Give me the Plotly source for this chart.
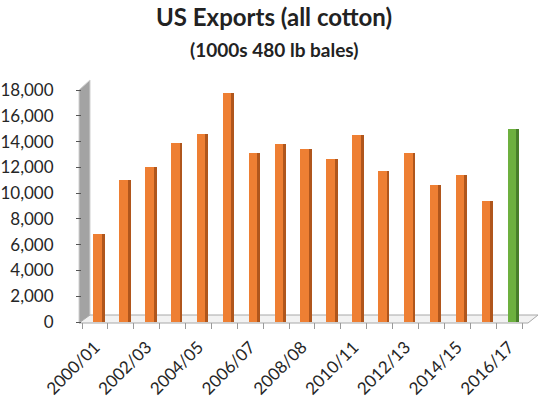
import plotly.graph_objects as go

# US cotton exports by marketing year, thousand 480-lb bales
seasons = [
    "2000/01", "2001/02", "2002/03", "2003/04", "2004/05", "2005/06",
    "2006/07", "2007/08", "2008/08", "2009/10", "2010/11", "2011/12",
    "2012/13", "2013/14", "2014/15", "2015/16", "2016/17",
]
exports = [
    6800, 11050, 12000, 13850, 14600, 17750,
    13150, 13800, 13450, 12650, 14500, 11700,
    13150, 10650, 11400, 9400, 15000,
]

orange_face, orange_side = "#EE7F33", "#B0561C"
green_face, green_side = "#6DB03F", "#487F2A"

x_idx = list(range(len(seasons)))
face_colors = [orange_face] * (len(seasons) - 1) + [green_face]
side_colors = [orange_side] * (len(seasons) - 1) + [green_side]

fig = go.Figure()
# front face of each column
fig.add_trace(go.Bar(
    x=x_idx, y=exports, width=0.33, offset=-0.06,
    marker=dict(color=face_colors, line=dict(width=0)),
    hovertext=seasons, showlegend=False,
))
# shaded side face giving the columns depth
fig.add_trace(go.Bar(
    x=x_idx, y=exports, width=0.11, offset=0.27,
    marker=dict(color=side_colors, line=dict(width=0)),
    hoverinfo="skip", showlegend=False,
))

# plot-area geometry in pixels, used to place the wall and floor
L, R, T, B = 82, 522, 90, 322
def px(xp):
    return (xp - L) / (R - L)
def py(yp):
    return (B - yp) / (B - T)

shapes = [
    # back wall on the value axis
    dict(type="path", xref="paper", yref="paper", layer="below",
         path=f"M {px(79)} {py(323)} L {px(79)} {py(90)} L {px(90)} {py(80)} "
              f"L {px(90)} {py(316)} Z",
         fillcolor="#A3A3A3", line=dict(color="#D0D0D0", width=1)),
    # floor
    dict(type="path", xref="paper", yref="paper", layer="below",
         path=f"M {px(79)} {py(323)} L {px(528)} {py(323)} L {px(538)} {py(315)} "
              f"L {px(90)} {py(315)} Z",
         fillcolor="#F2F2F2", line=dict(color="#A8A8A8", width=1)),
]

annotations = [
    dict(text="<b>US Exports (all cotton)</b>", xref="paper", yref="paper",
         x=px(274), y=py(16), xanchor="center", yanchor="middle",
         showarrow=False, font=dict(size=24, color="#222222", family="Lato")),
    dict(text="<b>(1000s 480 lb bales)</b>", xref="paper", yref="paper",
         x=px(274), y=py(49), xanchor="center", yanchor="middle",
         showarrow=False, font=dict(size=19, color="#222222", family="Lato")),
]

fig.update_layout(
    width=557, height=405,
    margin=dict(l=L, r=557 - R, t=T, b=405 - B),
    paper_bgcolor="white", plot_bgcolor="white",
    font=dict(family="Lato", size=17, color="#262626"),
    bargap=0, barmode="overlay",
    shapes=shapes, annotations=annotations,
    xaxis=dict(
        range=[-0.5, len(seasons) - 0.5], automargin=False,
        tickmode="array", tickvals=x_idx[::2], ticktext=seasons[::2],
        tickangle=-45, ticks="", ticklen=0, ticklabelstandoff=11,
        minor=dict(tickmode="array",
                   tickvals=[i - 0.5 for i in range(len(seasons) + 1)],
                   ticks="outside", ticklen=6, tickcolor="#9A9A9A", tickwidth=1),
        showgrid=False, showline=False, zeroline=False,
        tickfont=dict(size=17, color="#262626"),
    ),
    yaxis=dict(
        range=[0, 18000], automargin=False,
        tickmode="linear", tick0=0, dtick=2000,
        tickformat=",d", ticks="outside", ticklen=5, tickcolor="#555555",
        ticklabelstandoff=19,
        showgrid=False, showline=False, zeroline=False,
        tickfont=dict(size=17, color="#262626"),
    ),
)

fig.write_html("out.html")
